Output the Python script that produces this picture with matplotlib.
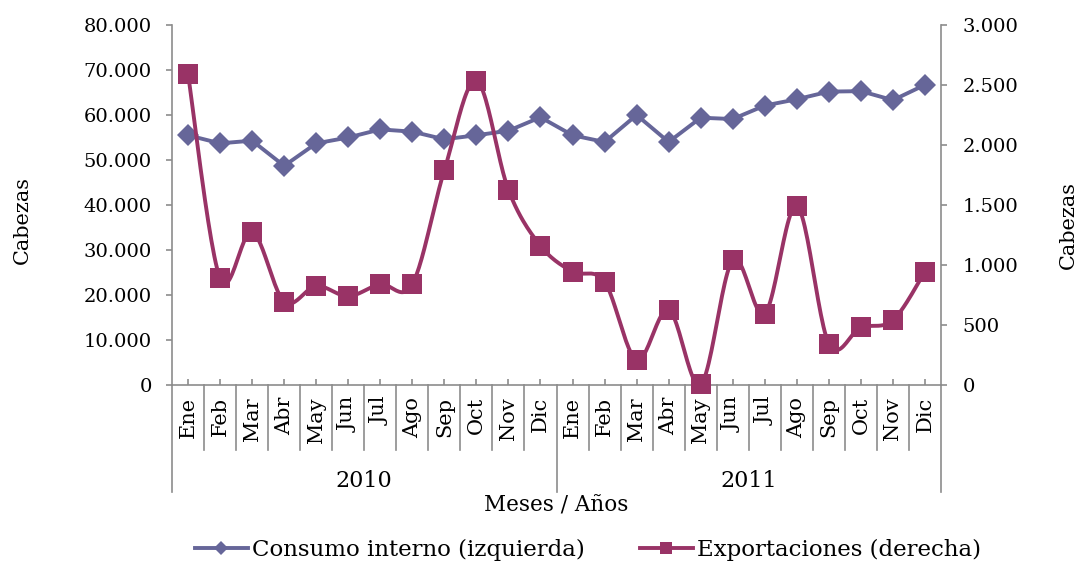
import numpy as np
import matplotlib
matplotlib.use('Agg')
import matplotlib.pyplot as plt
from matplotlib.ticker import FuncFormatter, MultipleLocator
from matplotlib.transforms import blended_transform_factory
from matplotlib.lines import Line2D

months = ['Ene', 'Feb', 'Mar', 'Abr', 'May', 'Jun', 'Jul', 'Ago', 'Sep', 'Oct', 'Nov', 'Dic']
years = ['2010', '2011']
consumo = [55500, 53700, 54300, 48700, 53700, 55000, 56800, 56300, 54600, 55500, 56500, 59500,
           55500, 54000, 60000, 54000, 59400, 59100, 62100, 63500, 65200, 65300, 63300, 66700]
exportaciones = [2590, 890, 1275, 695, 825, 740, 840, 840, 1790, 2535, 1625, 1160,
                 945, 860, 210, 625, 5, 1040, 595, 1490, 345, 480, 540, 945]
label_consumo = 'Consumo interno (izquierda)'
label_export = 'Exportaciones (derecha)'
ylabel = 'Cabezas'
xlabel = 'Meses / Años'

C1 = '#666699'
C2 = '#993366'
GRAY = '#8c8c8c'

plt.rcParams['font.family'] = ['DejaVu Serif']
FS = 14


def smooth(x, y, n=24):
    """Catmull-Rom style Bezier smoothing (like a spreadsheet 'smoothed line')."""
    x = np.asarray(x, float)
    y = np.asarray(y, float)
    N = len(x)
    xs, ys = [], []
    for i in range(N - 1):
        p0 = i - 1 if i > 0 else i
        p3 = i + 2 if i + 2 < N else i + 1
        c1x = x[i] + (x[i + 1] - x[p0]) / 6
        c1y = y[i] + (y[i + 1] - y[p0]) / 6
        c2x = x[i + 1] - (x[p3] - x[i]) / 6
        c2y = y[i + 1] - (y[p3] - y[i]) / 6
        t = np.linspace(0, 1, n, endpoint=(i == N - 2))
        a, b, c, d = (1 - t) ** 3, 3 * (1 - t) ** 2 * t, 3 * (1 - t) * t ** 2, t ** 3
        xs.append(a * x[i] + b * c1x + c * c2x + d * x[i + 1])
        ys.append(a * y[i] + b * c1y + c * c2y + d * y[i + 1])
    return np.concatenate(xs), np.concatenate(ys)


fig = plt.figure(figsize=(10.79, 5.64), dpi=100)
ax = fig.add_axes([172 / 1079, 1 - 385 / 564, (941 - 172) / 1079, 360 / 564])
ax2 = ax.twinx()

n = len(consumo)
x = np.arange(n)

ax.set_xlim(-0.5, n - 0.5)
ax.set_ylim(0, 80000)
ax2.set_ylim(0, 3000)

ax.plot(x, consumo, color=C1, lw=2.8, marker='D', ms=11, mew=0, clip_on=False, zorder=3)
sxv, syv = smooth(x, exportaciones)
ax2.plot(sxv, syv, color=C2, lw=2.8, clip_on=False, zorder=3)
ax2.plot(x, exportaciones, ls='none', color=C2, marker='s', ms=14, mew=0, clip_on=False, zorder=4)

ax.yaxis.set_major_locator(MultipleLocator(10000))
ax2.yaxis.set_major_locator(MultipleLocator(500))
fmt = FuncFormatter(lambda v, p: f"{v:,.0f}".replace(',', '.'))
ax.yaxis.set_major_formatter(fmt)
ax2.yaxis.set_major_formatter(fmt)

for a in (ax, ax2):
    a.spines['top'].set_visible(False)
    for s in a.spines.values():
        s.set_color(GRAY)
        s.set_linewidth(1.2)
ax.spines['right'].set_visible(False)
ax2.spines['left'].set_visible(False)
ax2.spines['bottom'].set_visible(False)

ax.set_xticks(x)
ax.tick_params(axis='x', direction='in', length=4, width=1.2, color=GRAY, labelbottom=False)
ax.tick_params(axis='y', direction='out', length=4.5, width=1.2, color=GRAY, labelsize=FS, pad=10)
ax2.tick_params(axis='y', direction='out', length=4.5, width=1.2, color=GRAY, labelsize=FS, pad=11)

trans = blended_transform_factory(ax.transData, ax.transAxes)
month_depth = 65 / 360
year_depth = 107 / 360
for i in range(n):
    ax.annotate(months[i % 12], xy=(i, 0), xycoords=trans, xytext=(0, -8.6),
                textcoords='offset points', rotation=90, ha='center', va='top', fontsize=FS + 1)
for b in np.arange(-0.5, n, 1.0):
    depth = year_depth if (b + 0.5) % 12 == 0 else month_depth
    ax.plot([b, b], [0, -depth], transform=trans, color=GRAY, lw=1.2, clip_on=False)
for k, yr in enumerate(years):
    ax.annotate(yr, xy=(k * 12 + 5.5, 0), xycoords=trans, xytext=(0, -69),
                textcoords='offset points', ha='center', va='center', fontsize=FS + 2)
ax.annotate(xlabel, xy=(0.5, 0), xycoords='axes fraction', xytext=(0, -86.5),
            textcoords='offset points', ha='center', va='center', fontsize=FS + 1.5)

fig.text(22 / 1079, 1 - 220 / 564, ylabel, rotation=90, ha='center', va='center', fontsize=FS + 1)
fig.text(1068 / 1079, 1 - 225 / 564, ylabel, rotation=90, ha='center', va='center', fontsize=FS + 1)

handles = [Line2D([], [], color=C1, lw=2.8, marker='D', ms=7, mew=0),
           Line2D([], [], color=C2, lw=2.8, marker='s', ms=9, mew=0)]
fig.legend(handles, [label_consumo, label_export], loc='center', ncol=2,
           bbox_to_anchor=(588 / 1079, 1 - 550 / 564), frameon=False, fontsize=FS + 2.5,
           handlelength=2.3, handletextpad=0.2, columnspacing=2.4, borderpad=0, borderaxespad=0)

fig.savefig('out.png', dpi=100)
